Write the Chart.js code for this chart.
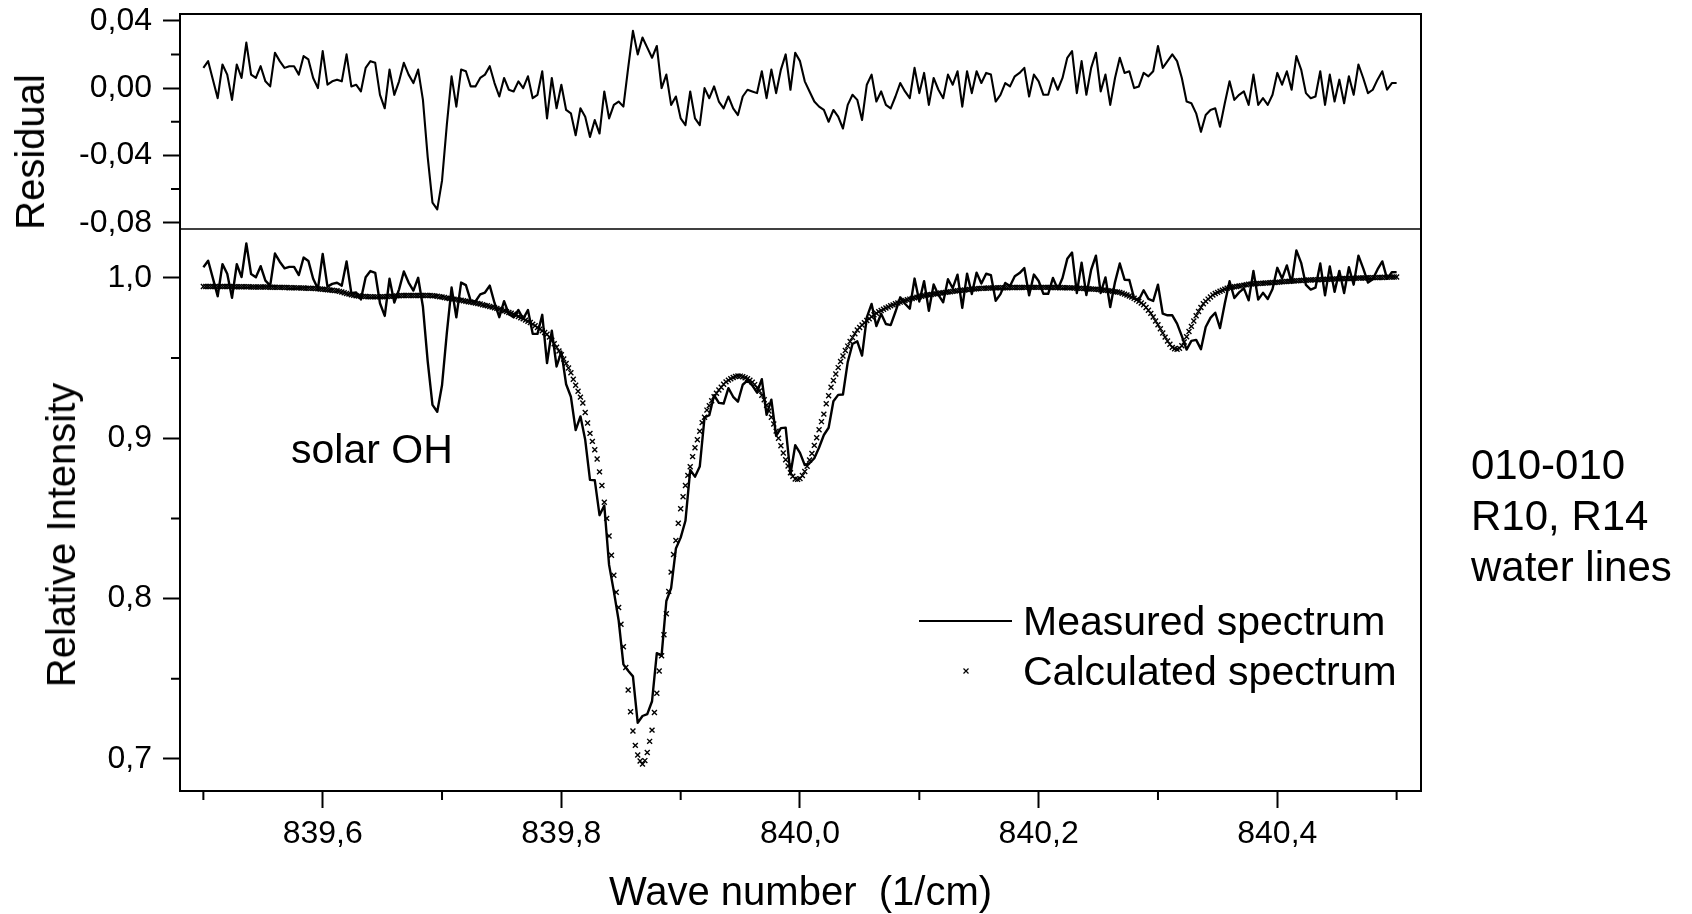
<!DOCTYPE html>
<html><head><meta charset="utf-8">
<script src="https://cdn.jsdelivr.net/npm/chart.js@4.4.1/dist/chart.umd.min.js"></script>
<style>
html,body{margin:0;padding:0;background:#fff;}
#wrap{position:relative;width:1692px;height:914px;overflow:hidden;font-family:"Liberation Sans",Arial,sans-serif;color:#000;}
#c{position:absolute;left:0;top:0;}
.t{position:absolute;white-space:nowrap;}
.vt{font-size:40px;line-height:40px;transform:translate(-50%,-50%) rotate(-90deg);}
.lg{font-size:41px;line-height:41px;}
.note{font-size:42px;line-height:51px;}
</style></head><body>
<div id="wrap">
<canvas id="c" width="1692" height="914"></canvas>
<div class="t vt" style="left:29.5px;top:152px;">Residual</div>
<div class="t vt" style="left:61px;top:535px;">Relative Intensity</div>
<div class="t lg" style="left:291px;top:429px;">solar OH</div>
<div class="t" style="left:919px;top:620px;width:93px;height:2px;background:#000;"></div>
<svg class="t" style="left:961px;top:666px;" width="10" height="10"><path d="M2.5 2.5 L7.5 7.5 M7.5 2.5 L2.5 7.5" stroke="#000" stroke-width="1.2"/></svg>
<div class="t lg" id="lg0" style="left:1023px;top:601px;"></div>
<div class="t lg" id="lg1" style="left:1023px;top:651px;"></div>
<div class="t note" style="left:1471px;top:439px;">010-010<br>R10, R14<br>water lines</div>
</div>
<script>
const FONT = '"Liberation Sans", Arial, sans-serif';

// sampling grid of the spectra (wave number, 1/cm)
const WAVE_START = 839.5;
const CALC_STEP = 0.002;
const MEAS_STEP = 0.004;

const SERIES_NAMES = ['Measured spectrum', 'Calculated spectrum'];

// Calculated spectrum (relative intensity), every 0.002 1/cm from 839.500
const CALCULATED = [
0.9946,0.9946,0.9946,0.9946,0.9946,0.9946,0.9945,0.9945,0.9945,0.9945,
0.9945,0.9945,0.9945,0.9944,0.9944,0.9944,0.9944,0.9944,0.9944,0.9944,
0.9943,0.9943,0.9943,0.9943,0.9942,0.9942,0.9942,0.9942,0.9941,0.9941,
0.9941,0.9940,0.9940,0.9940,0.9939,0.9939,0.9938,0.9938,0.9938,0.9937,
0.9937,0.9936,0.9936,0.9935,0.9935,0.9934,0.9934,0.9933,0.9931,0.9930,
0.9928,0.9927,0.9925,0.9924,0.9922,0.9920,0.9919,0.9915,0.9911,0.9906,
0.9902,0.9898,0.9894,0.9891,0.9888,0.9886,0.9885,0.9884,0.9883,0.9882,
0.9882,0.9881,0.9881,0.9881,0.9881,0.9882,0.9882,0.9883,0.9884,0.9885,
0.9886,0.9887,0.9888,0.9889,0.9889,0.9890,0.9890,0.9890,0.9890,0.9890,
0.9890,0.9890,0.9889,0.9889,0.9889,0.9889,0.9888,0.9887,0.9885,0.9882,
0.9880,0.9877,0.9873,0.9871,0.9869,0.9867,0.9864,0.9862,0.9860,0.9857,
0.9854,0.9851,0.9848,0.9845,0.9842,0.9839,0.9836,0.9832,0.9828,0.9825,
0.9821,0.9817,0.9813,0.9809,0.9804,0.9799,0.9794,0.9789,0.9784,0.9779,
0.9773,0.9766,0.9759,0.9751,0.9744,0.9736,0.9729,0.9721,0.9711,0.9701,
0.9690,0.9680,0.9669,0.9659,0.9648,0.9630,0.9610,0.9589,0.9567,0.9544,
0.9520,0.9494,0.9466,0.9438,0.9408,0.9367,0.9330,0.9293,0.9256,0.9219,
0.9160,0.9095,0.9030,0.8980,0.8928,0.8870,0.8790,0.8705,0.8600,0.8500,
0.8390,0.8270,0.8145,0.8040,0.7945,0.7840,0.7700,0.7570,0.7430,0.7295,
0.7175,0.7085,0.7025,0.6988,0.6968,0.6990,0.7040,0.7110,0.7180,0.7290,
0.7410,0.7548,0.7644,0.7775,0.7905,0.8045,0.8165,0.8275,0.8362,0.8470,
0.8560,0.8635,0.8705,0.8768,0.8822,0.8885,0.8940,0.8990,0.9043,0.9097,
0.9130,0.9175,0.9203,0.9233,0.9258,0.9280,0.9300,0.9318,0.9336,0.9351,
0.9362,0.9371,0.9378,0.9385,0.9388,0.9387,0.9383,0.9377,0.9370,0.9361,
0.9349,0.9334,0.9315,0.9294,0.9268,0.9240,0.9205,0.9170,0.9130,0.9088,
0.9044,0.8999,0.8953,0.8908,0.8866,0.8826,0.8785,0.8763,0.8746,0.8743,
0.8748,0.8767,0.8792,0.8825,0.8864,0.8905,0.8955,0.9003,0.9052,0.9103,
0.9150,0.9215,0.9265,0.9318,0.9360,0.9400,0.9440,0.9478,0.9512,0.9546,
0.9574,0.9603,0.9627,0.9651,0.9674,0.9690,0.9705,0.9720,0.9733,0.9745,
0.9757,0.9770,0.9779,0.9788,0.9796,0.9804,0.9812,0.9818,0.9825,0.9831,
0.9838,0.9843,0.9848,0.9853,0.9858,0.9863,0.9867,0.9871,0.9875,0.9879,
0.9882,0.9885,0.9889,0.9892,0.9894,0.9896,0.9898,0.9900,0.9903,0.9905,
0.9907,0.9909,0.9911,0.9913,0.9915,0.9917,0.9919,0.9921,0.9922,0.9924,
0.9926,0.9927,0.9929,0.9930,0.9932,0.9933,0.9934,0.9935,0.9935,0.9936,
0.9936,0.9937,0.9937,0.9938,0.9938,0.9938,0.9938,0.9938,0.9939,0.9939,
0.9939,0.9939,0.9939,0.9939,0.9940,0.9940,0.9940,0.9940,0.9940,0.9940,
0.9940,0.9940,0.9940,0.9940,0.9940,0.9939,0.9939,0.9939,0.9939,0.9939,
0.9938,0.9938,0.9938,0.9937,0.9937,0.9936,0.9935,0.9935,0.9934,0.9933,
0.9932,0.9931,0.9930,0.9929,0.9928,0.9927,0.9925,0.9924,0.9922,0.9920,
0.9918,0.9916,0.9913,0.9911,0.9909,0.9903,0.9898,0.9892,0.9886,0.9880,
0.9872,0.9863,0.9853,0.9843,0.9832,0.9815,0.9798,0.9778,0.9755,0.9731,
0.9707,0.9682,0.9656,0.9630,0.9606,0.9585,0.9566,0.9557,0.9554,0.9560,
0.9576,0.9600,0.9632,0.9665,0.9697,0.9730,0.9763,0.9790,0.9815,0.9838,
0.9853,0.9867,0.9880,0.9893,0.9902,0.9909,0.9916,0.9922,0.9929,0.9935,
0.9938,0.9941,0.9944,0.9946,0.9949,0.9951,0.9954,0.9956,0.9959,0.9961,
0.9962,0.9963,0.9964,0.9965,0.9966,0.9967,0.9968,0.9969,0.9970,0.9971,
0.9972,0.9973,0.9975,0.9976,0.9977,0.9978,0.9979,0.9980,0.9981,0.9982,
0.9983,0.9984,0.9985,0.9986,0.9986,0.9987,0.9988,0.9988,0.9989,0.9989,
0.9990,0.9991,0.9991,0.9992,0.9992,0.9993,0.9993,0.9994,0.9995,0.9995,
0.9996,0.9996,0.9997,0.9997,0.9998,0.9998,0.9999,0.9999,1.0000,1.0000,
1.0001,1.0001,1.0002,1.0002,1.0002,1.0003,1.0003,1.0004,1.0004,1.0005,
1.0005
];

// Measured spectrum (relative intensity), every 0.004 1/cm from 839.500
const MEASURED = [
1.0066,1.0106,0.9996,0.9885,1.0085,1.0025,0.9875,1.0084,1.0004,1.0214,
1.0023,1.0003,1.0072,0.9982,0.9951,1.0151,1.0100,1.0059,1.0068,1.0068,
1.0017,1.0126,1.0105,0.9994,0.9931,1.0148,0.9945,0.9962,0.9969,0.9951,
1.0102,0.9904,0.9908,0.9865,1.0003,1.0042,1.0031,0.9841,0.9762,0.9994,
0.9846,0.9928,1.0039,0.9970,0.9920,1.0000,0.9819,0.9479,0.9208,0.9165,
0.9330,0.9653,0.9939,0.9754,0.9970,0.9954,0.9858,0.9852,0.9896,0.9908,
0.9951,0.9843,0.9754,0.9854,0.9774,0.9753,0.9799,0.9744,0.9799,0.9651,
0.9650,0.9769,0.9468,0.9670,0.9447,0.9540,0.9336,0.9258,0.9050,0.9136,
0.8990,0.8740,0.8738,0.8520,0.8580,0.8210,0.8045,0.7865,0.7590,0.7550,
0.7515,0.7225,0.7268,0.7280,0.7360,0.7660,0.7644,0.7985,0.8065,0.8312,
0.8380,0.8485,0.8802,0.8760,0.8823,0.9130,0.9143,0.9268,0.9220,0.9216,
0.9312,0.9258,0.9228,0.9333,0.9360,0.9329,0.9285,0.9368,0.9145,0.9240,
0.9014,0.9063,0.9066,0.8775,0.8956,0.8908,0.8832,0.8844,0.8875,0.8942,
0.9020,0.9065,0.9230,0.9270,0.9272,0.9474,0.9587,0.9604,0.9515,0.9753,
0.9837,0.9699,0.9776,0.9712,0.9705,0.9788,0.9878,0.9838,0.9807,0.9995,
0.9852,0.9979,0.9794,0.9958,0.9893,0.9847,0.9991,0.9935,1.0019,0.9812,
1.0026,0.9899,1.0032,0.9964,1.0025,1.0016,0.9857,0.9898,0.9968,0.9949,
1.0009,1.0029,1.0060,0.9890,1.0020,0.9980,0.9900,0.9900,0.9999,0.9929,
0.9998,1.0118,1.0157,0.9905,1.0094,0.9892,1.0050,1.0138,0.9905,1.0002,
0.9818,0.9973,1.0089,0.9988,0.9986,0.9872,0.9863,0.9922,0.9868,0.9855,
0.9957,0.9776,0.9766,0.9766,0.9714,0.9636,0.9552,0.9607,0.9613,0.9555,
0.9693,0.9750,0.9782,0.9686,0.9839,0.9978,0.9874,0.9909,0.9934,0.9859,
1.0042,0.9864,0.9906,0.9868,0.9930,1.0062,0.9995,1.0077,0.9969,1.0171,
1.0093,0.9955,0.9926,0.9938,1.0089,0.9890,1.0071,0.9912,1.0043,0.9905,
1.0066,0.9957,1.0138,1.0059,0.9970,0.9991,1.0052,1.0102,0.9993,1.0034,
1.0035
];

// Residual (measured - calculated), every 0.004 1/cm from 839.500
const RESIDUAL = [
0.012,0.016,0.005,-0.006,0.014,0.008,-0.007,0.014,0.006,0.027,
0.008,0.006,0.013,0.004,0.001,0.021,0.016,0.012,0.013,0.013,
0.008,0.019,0.017,0.006,0.000,0.022,0.002,0.004,0.005,0.004,
0.020,0.001,0.002,-0.002,0.012,0.016,0.015,-0.004,-0.012,0.011,
-0.004,0.004,0.015,0.008,0.003,0.011,-0.007,-0.041,-0.068,-0.072,
-0.055,-0.022,0.007,-0.011,0.011,0.010,0.001,0.001,0.006,0.008,
0.013,0.003,-0.005,0.006,-0.001,-0.002,0.004,0.000,0.007,-0.006,
-0.004,0.010,-0.018,0.006,-0.012,0.002,-0.013,-0.015,-0.028,-0.012,
-0.017,-0.029,-0.019,-0.027,-0.002,-0.018,-0.010,-0.008,-0.011,0.012,
0.034,0.020,0.030,0.024,0.018,0.025,0.000,0.008,-0.010,-0.005,
-0.018,-0.022,-0.002,-0.018,-0.022,0.000,-0.006,0.001,-0.008,-0.012,
-0.005,-0.012,-0.016,-0.005,-0.001,-0.002,-0.003,0.010,-0.006,0.011,
-0.003,0.011,0.020,-0.001,0.021,0.016,0.004,-0.002,-0.008,-0.011,
-0.013,-0.020,-0.013,-0.017,-0.024,-0.010,-0.004,-0.007,-0.019,0.002,
0.008,-0.008,-0.002,-0.010,-0.012,-0.005,0.003,-0.002,-0.006,0.012,
-0.003,0.009,-0.010,0.006,-0.001,-0.006,0.008,0.002,0.010,-0.011,
0.010,-0.003,0.010,0.003,0.009,0.008,-0.008,-0.004,0.003,0.001,
0.007,0.009,0.012,-0.005,0.008,0.004,-0.004,-0.004,0.006,-0.001,
0.006,0.018,0.022,-0.003,0.016,-0.004,0.012,0.021,-0.002,0.008,
-0.010,0.006,0.018,0.009,0.010,0.000,0.001,0.009,0.007,0.010,
0.025,0.012,0.016,0.020,0.016,0.006,-0.008,-0.009,-0.015,-0.026,
-0.016,-0.013,-0.012,-0.023,-0.009,0.004,-0.007,-0.004,-0.002,-0.010,
0.008,-0.010,-0.006,-0.010,-0.004,0.009,0.002,0.010,-0.001,0.019,
0.011,-0.003,-0.006,-0.005,0.010,-0.010,0.008,-0.008,0.005,-0.009,
0.007,-0.004,0.014,0.006,-0.003,-0.001,0.005,0.010,-0.001,0.003,
0.003
];

const X_MAJOR_TICKS = [839.6, 839.8, 840.0, 840.2, 840.4];
const X_MINOR_TICKS = [839.5, 839.7, 839.9, 840.1, 840.3, 840.5];
const RES_MAJOR_TICKS = [-0.08, -0.04, 0.00, 0.04];
const RES_MINOR_TICKS = [-0.06, -0.02, 0.02];
const INT_MAJOR_TICKS = [0.7, 0.8, 0.9, 1.0];
const INT_MINOR_TICKS = [0.75, 0.85, 0.95];

document.getElementById('lg0').textContent = SERIES_NAMES[0];
document.getElementById('lg1').textContent = SERIES_NAMES[1];

const toPts = (vals, step) => vals.map((v, i) => ({x: WAVE_START + i * step, y: v}));

const tickGrid = {drawOnChartArea: false, drawTicks: true, tickLength: 17, tickWidth: 2, tickColor: '#000', color: '#000'};
const axisBorder = {display: true, color: '#000', width: 2};
const tickFont = {family: FONT, size: 32};

const framePlugin = {
  id: 'frame',
  afterDraw(chart) {
    const {ctx, chartArea: a, scales} = chart;
    ctx.save();
    ctx.strokeStyle = '#000';
    ctx.lineWidth = 2;
    ctx.beginPath();
    ctx.moveTo(a.left - 1, a.top);
    ctx.lineTo(a.right, a.top);
    ctx.lineTo(a.right, a.bottom + 1);
    ctx.stroke();
    ctx.lineWidth = 1.3;
    ctx.beginPath();
    ctx.moveTo(a.left, scales.yi.top);
    ctx.lineTo(a.right, scales.yi.top);
    ctx.stroke();
    ctx.lineWidth = 2;
    ctx.beginPath();
    X_MINOR_TICKS.forEach(v => { const p = scales.x.getPixelForValue(v); ctx.moveTo(p, a.bottom); ctx.lineTo(p, a.bottom + 9); });
    RES_MINOR_TICKS.forEach(v => { const p = scales.yr.getPixelForValue(v); ctx.moveTo(a.left - 9, p); ctx.lineTo(a.left, p); });
    INT_MINOR_TICKS.forEach(v => { const p = scales.yi.getPixelForValue(v); ctx.moveTo(a.left - 9, p); ctx.lineTo(a.left, p); });
    ctx.stroke();
    ctx.restore();
  }
};

new Chart(document.getElementById('c'), {
  type: 'line',
  data: {
    datasets: [
      {label: SERIES_NAMES[0], data: toPts(MEASURED, MEAS_STEP), yAxisID: 'yi', borderColor: '#000', borderWidth: 2.4,
       borderJoinStyle: 'round', pointRadius: 0, tension: 0, order: 1},
      {label: SERIES_NAMES[1], data: toPts(CALCULATED, CALC_STEP), yAxisID: 'yi', showLine: false, pointStyle: 'crossRot',
       pointRadius: 3.5, pointBorderWidth: 1.4, pointBorderColor: '#000', pointBackgroundColor: '#000', order: 2},
      {label: 'Residual', data: toPts(RESIDUAL, MEAS_STEP), yAxisID: 'yr', borderColor: '#000', borderWidth: 2.1,
       borderJoinStyle: 'round', pointRadius: 0, tension: 0, order: 0}
    ]
  },
  options: {
    responsive: false,
    animation: false,
    devicePixelRatio: 1,
    layout: {padding: {left: 0, top: 14, right: 271, bottom: 0}, autoPadding: false},
    plugins: {legend: {display: false}, tooltip: {enabled: false}},
    elements: {point: {hoverRadius: 3.5}},
    events: [],
    scales: {
      x: {
        type: 'linear', position: 'bottom', min: 839.48041, max: 840.52043,
        afterBuildTicks: s => { s.ticks = X_MAJOR_TICKS.map(v => ({value: v})); },
        afterFit: s => { s.height = 123; s.paddingLeft = 0; s.paddingRight = 0; },
        grid: tickGrid, border: axisBorder,
        ticks: {color: '#000', font: tickFont, padding: 7, maxRotation: 0, minRotation: 0, autoSkip: false,
                callback: v => v.toFixed(1).replace('.', ',')},
        title: {display: true, text: 'Wave number  (1/cm)', color: '#000',
                font: {family: FONT, size: 40, lineHeight: 1}, padding: {top: 0, bottom: 0}}
      },
      yr: {
        type: 'linear', position: 'left', stack: 'panels', stackWeight: 215, weight: 2,
        min: -0.0837, max: 0.0440,
        afterBuildTicks: s => { s.ticks = RES_MAJOR_TICKS.map(v => ({value: v})); },
        afterFit: s => { s.width = 180; s.paddingTop = 0; s.paddingBottom = 0; },
        grid: tickGrid, border: axisBorder,
        ticks: {color: '#000', font: tickFont, padding: 11, autoSkip: false,
                callback: v => v.toFixed(2).replace('.', ',')}
      },
      yi: {
        type: 'linear', position: 'left', stack: 'panels', stackWeight: 562, weight: 1,
        min: 0.68005, max: 1.0304,
        afterBuildTicks: s => { s.ticks = INT_MAJOR_TICKS.map(v => ({value: v})); },
        afterFit: s => { s.width = 180; s.paddingTop = 0; s.paddingBottom = 0; },
        grid: tickGrid, border: axisBorder,
        ticks: {color: '#000', font: tickFont, padding: 11, autoSkip: false,
                callback: v => v.toFixed(1).replace('.', ',')}
      }
    }
  },
  plugins: [framePlugin]
});
</script>
</body></html>
